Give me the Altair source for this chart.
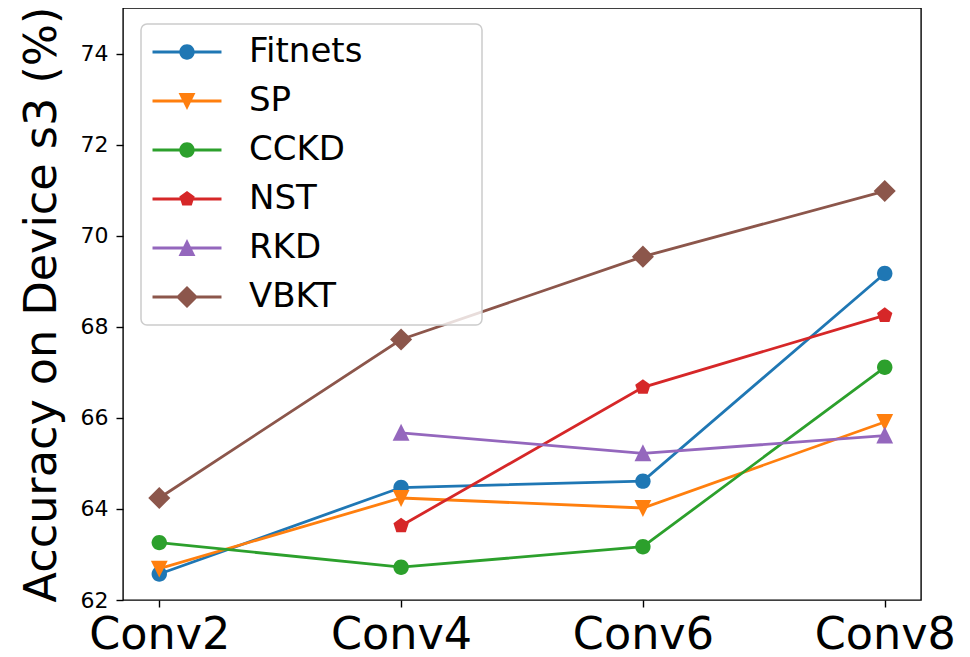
import altair as alt
import pandas as pd

categories = ["Conv2", "Conv4", "Conv6", "Conv8"]
methods = ["Fitnets", "SP", "CCKD", "NST", "RKD", "VBKT"]
colors = ["#1f77b4", "#ff7f0e", "#2ca02c", "#d62728", "#9467bd", "#8c564b"]

fitnets = [62.57, 64.47, 64.61, 69.17]
sp = [62.69, 64.24, 64.02, 65.91]
cckd = [63.26, 62.72, 63.17, 67.11]
nst = [None, 63.63, 66.67, 68.25]
rkd = [None, 65.67, 65.22, 65.61]
vbkt = [64.24, 67.72, 69.54, 70.98]

series = [fitnets, sp, cckd, nst, rkd, vbkt]
y_ticks = [62, 64, 66, 68, 70, 72, 74]

rows = []
for m, vals in zip(methods, series):
    for c, v in zip(categories, vals):
        if v is not None:
            rows.append({"method": m, "layer": c, "acc": v})
df = pd.DataFrame(rows)

# marker shapes (matplotlib-like, edge included), unit = 7.2 px
circle = "M1.07,0 A1.07,1.07 0 1,1 -1.07,0 A1.07,1.07 0 1,1 1.07,0 Z"
tri_down = "M0,1.25 L-1.17,-1.1 L1.17,-1.1 Z"
tri_up = "M0,-1.25 L1.17,1.1 L-1.17,1.1 Z"
pentagon = "M0,-1.12 L1.065,-0.346 L0.658,0.906 L-0.658,0.906 L-1.065,-0.346 Z"
diamond = "M0,-1.53 L1.53,0 L0,1.53 L-1.53,0 Z"
marker_paths = [circle, tri_down, circle, pentagon, tri_up, diamond]
bar = "M-4.79,-0.2 L4.79,-0.2 L4.79,0.2 L-4.79,0.2 Z "
# tiny, invisible point far right so that the legend frame gets matplotlib's width
spacer = " M39.4,0 L39.41,0 L39.4,0.01 Z"
legend_paths = [bar + p + spacer for p in marker_paths]

FONT = "DejaVu Sans"
SIZE = 207.36

x_enc = alt.X(
    "layer:N",
    sort=categories,
    scale=alt.Scale(type="point", padding=0.15, domain=categories),
    axis=alt.Axis(
        title=None, labelAngle=0, labelFontSize=44.5, labelFont=FONT, labelColor="black",
        labelPadding=6, tickSize=7, tickWidth=1.4, tickColor="black", domain=False, grid=False,
    ),
)
y_enc = alt.Y(
    "acc:Q",
    scale=alt.Scale(domain=[62, 75], nice=False, zero=False),
    axis=alt.Axis(
        values=y_ticks, title="Accuracy on Device s3 (%)", titleFontSize=44.5, titleFont=FONT,
        titleFontWeight="normal", titleColor="black", titlePadding=16,
        labelFontSize=22, labelFont=FONT, labelColor="black", labelPadding=8,
        tickSize=7, tickWidth=1.4, tickColor="black", domain=False, grid=False,
    ),
)
color_scale = alt.Scale(domain=methods, range=colors)

base = alt.Chart(df)

lines = base.mark_line(strokeWidth=2.8).encode(
    x=x_enc, y=y_enc,
    color=alt.Color("method:N", scale=color_scale, legend=None),
)

points = base.mark_point(filled=True, size=SIZE, opacity=1, strokeWidth=0).encode(
    x=x_enc, y=y_enc,
    color=alt.Color("method:N", scale=color_scale, legend=None),
    shape=alt.Shape("method:N", scale=alt.Scale(domain=methods, range=marker_paths), legend=None),
)

legend_props = dict(
    title=None, orient="none", legendX=18, legendY=16, padding=11, rowPadding=15,
    symbolSize=SIZE, symbolOffset=18, symbolStrokeWidth=0, labelOffset=45,
    labelFontSize=34, labelFont=FONT, labelColor="black", labelLimit=500,
    fillColor="rgba(255,255,255,0.8)", strokeColor="#cccccc", cornerRadius=6,
)

legend_layer = base.transform_filter("datum.acc > 1000").mark_point(
    filled=True, size=SIZE, opacity=1, strokeWidth=0
).encode(
    x=x_enc, y=y_enc,
    color=alt.Color("method:N", scale=color_scale, legend=alt.Legend(**legend_props)),
    shape=alt.Shape("method:N", scale=alt.Scale(domain=methods, range=legend_paths),
                    legend=alt.Legend(**legend_props)),
)

chart = (
    alt.layer(lines, points, legend_layer)
    .resolve_scale(color="independent", shape="independent")
    .properties(
        width=798, height=592,
        autosize=alt.AutoSizeParams(type="none"),
        padding={"left": 115, "top": 0, "right": 41, "bottom": 57},
    )
    .configure_view(stroke="black", strokeWidth=1.4)
    .configure_legend(strokeWidth=1.5)
)

chart.save("out.html", embed_options={"renderer": "svg", "actions": False})
